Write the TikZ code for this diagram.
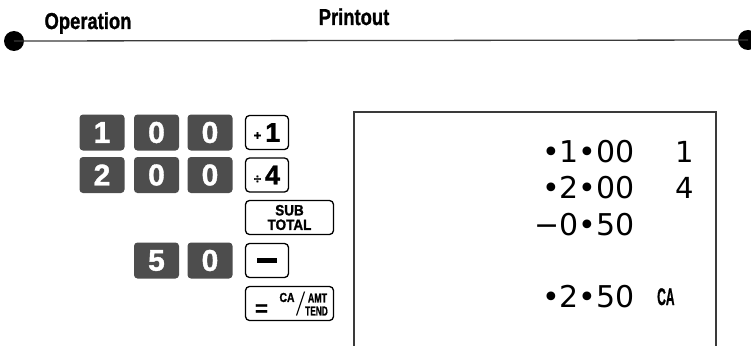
\documentclass[tikz,border=0pt]{standalone}
\usepackage{fontspec}
\setmainfont{Liberation Sans}
\newfontfamily\prfont{DejaVu Sans}
\newfontfamily\heavy{Liberation Sans}[FakeBold=1.3]
\definecolor{keygray}{HTML}{4D4D4D}
\definecolor{linegray}{HTML}{3A3A3A}
\newcommand{\cond}[2]{\scalebox{#1}[1]{#2}}
\begin{document}
\begin{tikzpicture}[x=1pt,y=-1pt,
  dotnode/.style={circle,fill=black,minimum size=20pt,inner sep=0pt},
  hdrtext/.style={font=\heavy\fontsize{23}{23}\selectfont\bfseries,anchor=base,inner sep=0pt},
  dk/.style={fill=keygray,rounded corners=3.5pt,minimum width=45pt,minimum height=36pt,inner sep=0pt,text=white,font=\heavy\fontsize{30}{30}\selectfont\bfseries},
  ok/.style={draw=black,fill=white,line width=1.3pt,rounded corners=4pt,minimum width=43pt,minimum height=34pt,inner sep=0pt},
  wk/.style={ok,minimum width=88pt},
  tiny/.style={inner sep=0pt,font=\heavy\fontsize{13}{13}\selectfont\bfseries},
  pr/.style={font=\prfont\fontsize{30}{30}\selectfont,anchor=base east,inner sep=0pt},
  prs/.style={font=\prfont\fontsize{29}{29}\selectfont,anchor=base east,inner sep=0pt}]
\useasboundingbox (0,0) rectangle (751,345);
% header
\node[dotnode] (dl) at (14,41) {};
\node[dotnode] (dr) at (748,40) {};
\draw[linegray,line width=1.3pt] (dl.center) -- (dr.center);
\node[hdrtext] (op) at (88,29) {\cond{0.8}{Operation}};
\node[hdrtext] (po) at (354,25) {\cond{0.8}{Printout}};
% printout box
\coordinate (bl) at (354,350);
\coordinate (tl) at (354,112);
\coordinate (tr) at (716,112);
\coordinate (br) at (716,350);
\draw[linegray,line width=1.8pt] (bl) -- (tl) -- (tr) -- (br);
% keys row 1
\node[dk] (k11) at (102,132.5) {1};
\node[dk] (k12) at (156.5,132.5) {0};
\node[dk] (k13) at (210,132.5) {0};
\node[ok] (k14) at (267,132.5) {\raisebox{2pt}{\heavy\fontsize{13}{13}\selectfont\bfseries +}\hspace{4pt}{\heavy\fontsize{27}{27}\selectfont\bfseries 1}};
% row 2
\node[dk] (k21) at (102,175) {2};
\node[dk] (k22) at (156.5,175) {0};
\node[dk] (k23) at (210,175) {0};
\node[ok] (k24) at (267,175) {\raisebox{1pt}{\heavy\fontsize{13}{13}\selectfont\bfseries ÷}\hspace{4pt}{\heavy\fontsize{27}{27}\selectfont\bfseries 4}};
% subtotal
\node[wk,align=center,font=\heavy\fontsize{15}{14.5}\selectfont\bfseries] (st) at (289.5,217.5) {\cond{0.9}{SUB}\\\cond{0.9}{TOTAL}};
% row 3
\node[dk] (k32) at (156.5,260.5) {5};
\node[dk] (k33) at (210,260.5) {0};
\node[ok] (k34) at (267,260.5) {\rule{20pt}{4.5pt}};
% equals key
\node[wk] (eq) at (289.5,303.5) {};
\node[inner sep=0pt,font=\heavy\fontsize{22}{22}\selectfont\bfseries] (eqs) at ([shift={(-28,6.5)}]eq.center) {=};
\node[tiny] (ca) at ([shift={(-2.5,-6)}]eq.center) {\cond{0.8}{CA}};
\node[tiny] (amt) at ([shift={(28,-5.5)}]eq.center) {\cond{0.68}{AMT}};
\node[tiny] (tend) at ([shift={(27,7.5)}]eq.center) {\cond{0.64}{TEND}};
\coordinate (sl1) at ([shift={(15,-12)}]eq.center);
\coordinate (sl2) at ([shift={(7,12)}]eq.center);
\draw[line width=1.1pt] (sl2) -- (sl1);
% printout text
\node[pr] (p1) at (635,162) {•1•00};
\node[prs] (p1b) at (694,162) {1};
\node[pr] (p2) at (635,198) {•2•00};
\node[prs] (p2b) at (694,198) {4};
\node[pr] (p3) at (635,235) {−0•50};
\node[pr] (p4) at (635,307) {•2•50};
\node[inner sep=0pt,anchor=base west,font=\heavy\fontsize{24}{24}\selectfont\bfseries] (ca2) at (657,305) {\cond{0.5}{CA}};
\end{tikzpicture}
\end{document}
